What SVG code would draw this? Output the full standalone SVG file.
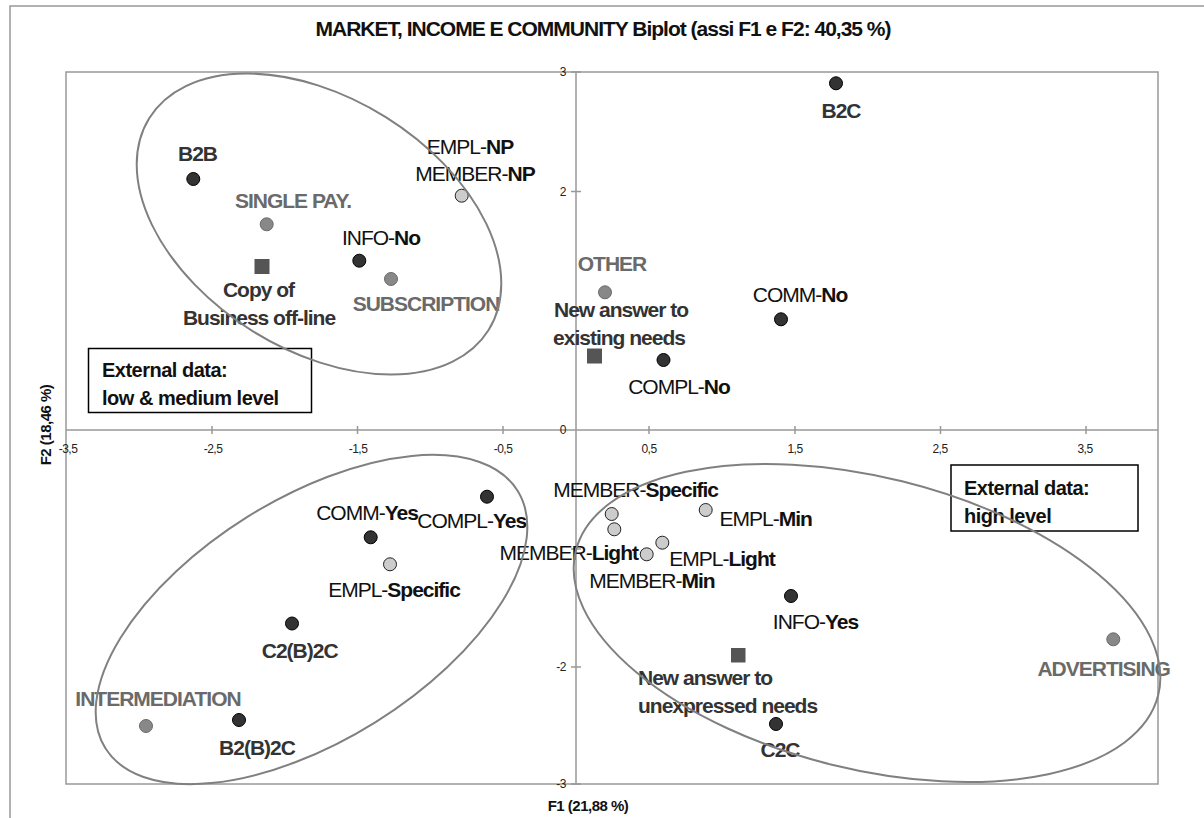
<svg xmlns="http://www.w3.org/2000/svg" width="1204" height="818" viewBox="0 0 1204 818">
<style>
text{font-family:"Liberation Sans",Arial,sans-serif}
.lbl{font-size:21px;letter-spacing:-1px}
.b{font-weight:bold}
.dk{fill:#333}
.md{fill:#6a6a6a}
.bk{fill:#111}
.dotd{fill:#333;stroke:#000;stroke-width:1}
.dotm{fill:#888;stroke:#6a6a6a;stroke-width:1}
.dotl{fill:#ccc;stroke:#222;stroke-width:1}
.sq{fill:#555}
.ell{fill:none;stroke:#808080;stroke-width:2}
.ax{stroke:#999;stroke-width:1.5;fill:none}
.tk{font-size:12px;fill:#222;letter-spacing:-0.5px}
.box{fill:#fff;stroke:#000;stroke-width:1.5}
.bt{font-size:20px;font-weight:bold;fill:#111;letter-spacing:-0.5px}
</style>
<rect x="0" y="0" width="1204" height="818" fill="#fff"/>
<path d="M10 818 V6 H1204" fill="none" stroke="#999" stroke-width="1.5"/>
<text x="603" y="36" text-anchor="middle" class="b" style="font-size:21px;letter-spacing:-1px" fill="#111">MARKET, INCOME E COMMUNITY Biplot (assi F1 e F2: 40,35 %)</text>

<g id="axes">
<rect x="66" y="72" width="1092" height="712" class="ax"/>
<line x1="66" y1="430" x2="1158" y2="430" class="ax"/>
<line x1="576" y1="72" x2="576" y2="784" class="ax"/>
<path class="ax" d="M212 426v8M357.5 426v8M503 426v8M649 426v8M795 426v8M940.5 426v8M1086 426v8M571 72h10M571 191.5h10M571 311h10M571 549h10M571 667h10M571 784h10"/>
<g class="tk" text-anchor="middle">
<text x="68" y="453">-3,5</text>
<text x="213" y="453">-2,5</text>
<text x="358" y="453">-1,5</text>
<text x="503" y="453">-0,5</text>
<text x="649" y="453">0,5</text>
<text x="795" y="453">1,5</text>
<text x="940" y="453">2,5</text>
<text x="1085" y="453">3,5</text>
</g>
<g class="tk" text-anchor="end">
<text x="566" y="76">3</text>
<text x="566" y="196">2</text>
<text x="566" y="434">0</text>
<text x="566" y="671">-2</text>
<text x="566" y="788">-3</text>
</g>
<text x="588" y="811" text-anchor="middle" class="b" style="font-size:15px;letter-spacing:-0.5px" fill="#111">F1 (21,88 %)</text>
<text transform="translate(51 425) rotate(-90)" text-anchor="middle" class="b" style="font-size:15px;letter-spacing:-0.5px" fill="#111">F2 (18,46 %)</text>
</g>

<g id="box-low">
<rect x="88.5" y="348.5" width="223" height="64" class="box"/>
<text x="102" y="377" class="bt">External data:</text>
<text x="102" y="405" class="bt">low &amp; medium level</text>
</g>
<g id="box-high">
<rect x="951" y="465" width="187" height="66" class="box"/>
<text x="964" y="495" class="bt">External data:</text>
<text x="964" y="523" class="bt">high level</text>
</g>

<g id="n-b2b"><circle cx="193.3" cy="179" r="6.5" class="dotd"/><text x="197.5" y="161" text-anchor="middle" class="lbl b dk">B2B</text></g>
<g id="n-singlepay"><circle cx="266.7" cy="224.3" r="6.5" class="dotm"/><text x="293" y="207.7" text-anchor="middle" class="lbl b md">SINGLE PAY.</text></g>
<g id="n-copy"><rect x="254.5" y="259" width="15" height="15" class="sq"/><text x="258.5" y="296.7" text-anchor="middle" class="lbl b dk">Copy  of</text><text x="259" y="325" text-anchor="middle" class="lbl b dk">Business off-line</text></g>
<g id="n-infono"><circle cx="359.3" cy="260.7" r="6.5" class="dotd"/><text x="381" y="245" text-anchor="middle" class="lbl bk">INFO-<tspan class="b">No</tspan></text></g>
<g id="n-subscription"><circle cx="391" cy="279" r="6.5" class="dotm"/><text x="426" y="310.7" text-anchor="middle" class="lbl b md">SUBSCRIPTION</text></g>
<g id="n-np"><circle cx="461.7" cy="195.7" r="6.5" class="dotl"/><text x="470" y="154.3" text-anchor="middle" class="lbl bk">EMPL-<tspan class="b">NP</tspan></text><text x="475" y="180.7" text-anchor="middle" class="lbl bk">MEMBER-<tspan class="b">NP</tspan></text></g>
<g id="n-b2c"><circle cx="836" cy="83.3" r="6.5" class="dotd"/><text x="841" y="118" text-anchor="middle" class="lbl b dk">B2C</text></g>
<g id="n-other"><circle cx="605" cy="292.3" r="6.5" class="dotm"/><text x="612" y="270.7" text-anchor="middle" class="lbl b md">OTHER</text></g>
<g id="n-existing"><rect x="587" y="348.5" width="15" height="15" class="sq"/><text x="621" y="317" text-anchor="middle" class="lbl b dk">New answer to</text><text x="619" y="345" text-anchor="middle" class="lbl b dk">existing needs</text></g>
<g id="n-commno"><circle cx="781" cy="319.3" r="6.5" class="dotd"/><text x="800" y="301.7" text-anchor="middle" class="lbl bk">COMM-<tspan class="b">No</tspan></text></g>
<g id="n-complno"><circle cx="663.5" cy="360" r="6.5" class="dotd"/><text x="679" y="394" text-anchor="middle" class="lbl bk">COMPL-<tspan class="b">No</tspan></text></g>
<g id="n-complyes"><circle cx="487" cy="496.7" r="6.5" class="dotd"/><text x="471.7" y="528" text-anchor="middle" class="lbl bk">COMPL-<tspan class="b">Yes</tspan></text></g>
<g id="n-commyes"><circle cx="370.7" cy="537.3" r="6.5" class="dotd"/><text x="367" y="520" text-anchor="middle" class="lbl bk">COMM-<tspan class="b">Yes</tspan></text></g>
<g id="n-emplspecific"><circle cx="390" cy="564.3" r="6.5" class="dotl"/><text x="394" y="596.7" text-anchor="middle" class="lbl bk">EMPL-<tspan class="b">Specific</tspan></text></g>
<g id="n-c2b2c"><circle cx="292" cy="623.5" r="6.5" class="dotd"/><text x="299.7" y="658" text-anchor="middle" class="lbl b dk">C2(B)2C</text></g>
<g id="n-intermediation"><circle cx="146" cy="726" r="6.5" class="dotm"/><text x="158" y="706" text-anchor="middle" class="lbl b md">INTERMEDIATION</text></g>
<g id="n-b2b2c"><circle cx="239" cy="720" r="6.5" class="dotd"/><text x="257" y="755" text-anchor="middle" class="lbl b dk">B2(B)2C</text></g>
<g id="n-memberspecific"><circle cx="611.7" cy="514" r="6.5" class="dotl"/><text x="635.7" y="496.7" text-anchor="middle" class="lbl bk">MEMBER-<tspan class="b">Specific</tspan></text></g>
<g id="n-memberlight"><circle cx="614.3" cy="529.3" r="6.5" class="dotl"/><text x="638" y="560" text-anchor="end" class="lbl bk">MEMBER-<tspan class="b">Light</tspan></text></g>
<g id="n-membermin"><circle cx="646.7" cy="554.3" r="6.5" class="dotl"/><text x="652" y="587.7" text-anchor="middle" class="lbl bk">MEMBER-<tspan class="b">Min</tspan></text></g>
<g id="n-empllight"><circle cx="662.3" cy="542.7" r="6.5" class="dotl"/><text x="722" y="566" text-anchor="middle" class="lbl bk">EMPL-<tspan class="b">Light</tspan></text></g>
<g id="n-emplmin"><circle cx="705.7" cy="510" r="6.5" class="dotl"/><text x="765.7" y="526" text-anchor="middle" class="lbl bk">EMPL-<tspan class="b">Min</tspan></text></g>
<g id="n-infoyes"><circle cx="791" cy="596" r="6.5" class="dotd"/><text x="815.5" y="629.3" text-anchor="middle" class="lbl bk">INFO-<tspan class="b">Yes</tspan></text></g>
<g id="n-unexpressed"><rect x="731" y="648" width="14.5" height="14.5" class="sq"/><text x="638" y="685" class="lbl b dk">New answer to</text><text x="638" y="713" class="lbl b dk">unexpressed needs</text></g>
<g id="n-c2c"><circle cx="776" cy="724" r="6.5" class="dotd"/><text x="780" y="756.7" text-anchor="middle" class="lbl b dk">C2C</text></g>
<g id="n-advertising"><circle cx="1113.3" cy="639.3" r="6.5" class="dotm"/><text x="1103.7" y="676" text-anchor="middle" class="lbl b md">ADVERTISING</text></g>

<g id="connectors">
<ellipse cx="319" cy="224" rx="200" ry="126" transform="rotate(32 319 224)" class="ell"/>
<ellipse cx="311.5" cy="619.5" rx="243" ry="121" transform="rotate(-32 311.5 619.5)" class="ell"/>
<ellipse cx="867" cy="623" rx="300" ry="146" transform="rotate(13.9 867 623)" class="ell"/>
</g>
</svg>
